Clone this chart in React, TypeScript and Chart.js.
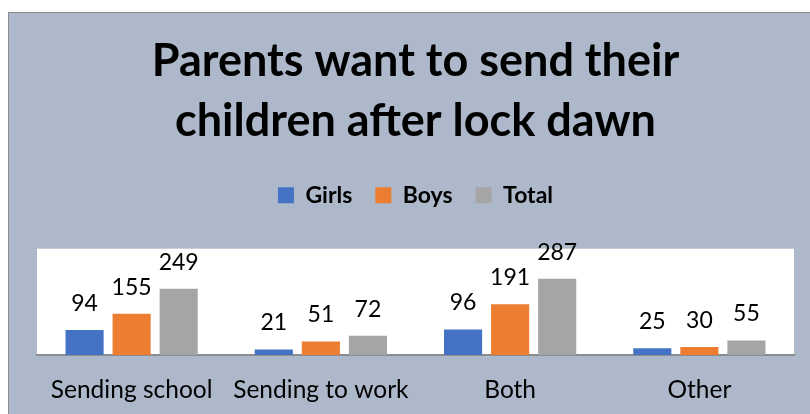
import React, { useEffect, useRef } from "react";
import { Chart, registerables } from "chart.js";

Chart.register(...registerables);

const categories = ["Sending school", "Sending to work", "Both", "Other"];
const girls = [94, 21, 96, 25];
const boys = [155, 51, 191, 30];
const total = [249, 72, 287, 55];
const titleLines = ["Parents want to send their", "children after lock dawn"];

const FONT = "Lato, 'Open Sans', sans-serif";

const plotBg = {
  id: "plotBg",
  beforeDraw(chart: any) {
    const { ctx, chartArea } = chart;
    ctx.save();
    ctx.fillStyle = "#ffffff";
    ctx.fillRect(chartArea.left, chartArea.top, chartArea.right - chartArea.left, chartArea.bottom - chartArea.top);
    ctx.restore();
  },
};

const legendFixed = {
  id: "legendFixed",
  beforeInit(chart: any) {
    const legend = chart.legend;
    if (!legend) return;
    const origFit = legend.fit;
    legend.fit = function () {
      origFit.call(this);
      this.height = 88;
    };
  },
};

const valueLabels = {
  id: "valueLabels",
  afterDatasetsDraw(chart: any) {
    const { ctx } = chart;
    ctx.save();
    ctx.fillStyle = "#000";
    ctx.font = `23px ${FONT}`;
    ctx.textAlign = "center";
    ctx.textBaseline = "alphabetic";
    chart.data.datasets.forEach((ds: any, i: number) => {
      const meta = chart.getDatasetMeta(i);
      meta.data.forEach((bar: any, j: number) => {
        ctx.fillText(String(ds.data[j]), bar.x, bar.y - 19);
      });
    });
    ctx.restore();
  },
};

export default function App() {
  const ref = useRef<HTMLCanvasElement>(null);
  useEffect(() => {
    document.body.style.overflow = "hidden";
    const chart = new Chart(ref.current!, {
      type: "bar",
      data: {
        labels: categories,
        datasets: [
          { label: "Girls", data: girls, backgroundColor: "#4472c4" },
          { label: "Boys", data: boys, backgroundColor: "#ed7d31" },
          { label: "Total", data: total, backgroundColor: "#a5a5a5" },
        ],
      },
      options: {
        animation: false,
        responsive: false,
        maintainAspectRatio: false,
        datasets: { bar: { categoryPercentage: 0.746, barPercentage: 0.81 } },
        layout: { padding: { left: 28, right: 16, top: 19, bottom: 10 } },
        plugins: {
          title: {
            display: true,
            text: titleLines,
            color: "#000",
            font: { family: FONT, size: 45, weight: "bold", lineHeight: 1.33 },
            padding: { top: 0, bottom: 9 },
          },
          legend: {
            display: true,
            position: "top",
            labels: {
              color: "#000",
              font: { family: FONT, size: 23, weight: "bold" },
              boxWidth: 16,
              boxHeight: 16,
              padding: 23,
            },
          },
          tooltip: { enabled: false },
        },
        scales: {
          x: {
            grid: { display: false, drawTicks: false },
            border: { display: true, color: "#8c8c8c", width: 2 },
            ticks: { color: "#000", font: { family: FONT, size: 24.5 }, padding: 20, maxRotation: 0 },
            afterFit: (scale: any) => {
              scale.height = 49;
            },
          },
          y: { display: false, min: 0, max: 400 },
        },
      },
      plugins: [plotBg, valueLabels, legendFixed],
    });
    return () => chart.destroy();
  }, []);
  return (
    <div
      style={{
        position: "absolute",
        left: 8,
        top: 12,
        width: 810,
        height: 410,
        border: "1px solid #8c8c8c",
        background: "#adb9ca",
      }}
    >
      <canvas ref={ref} width={801} height={401} style={{ display: "block" }} />
    </div>
  );
}
